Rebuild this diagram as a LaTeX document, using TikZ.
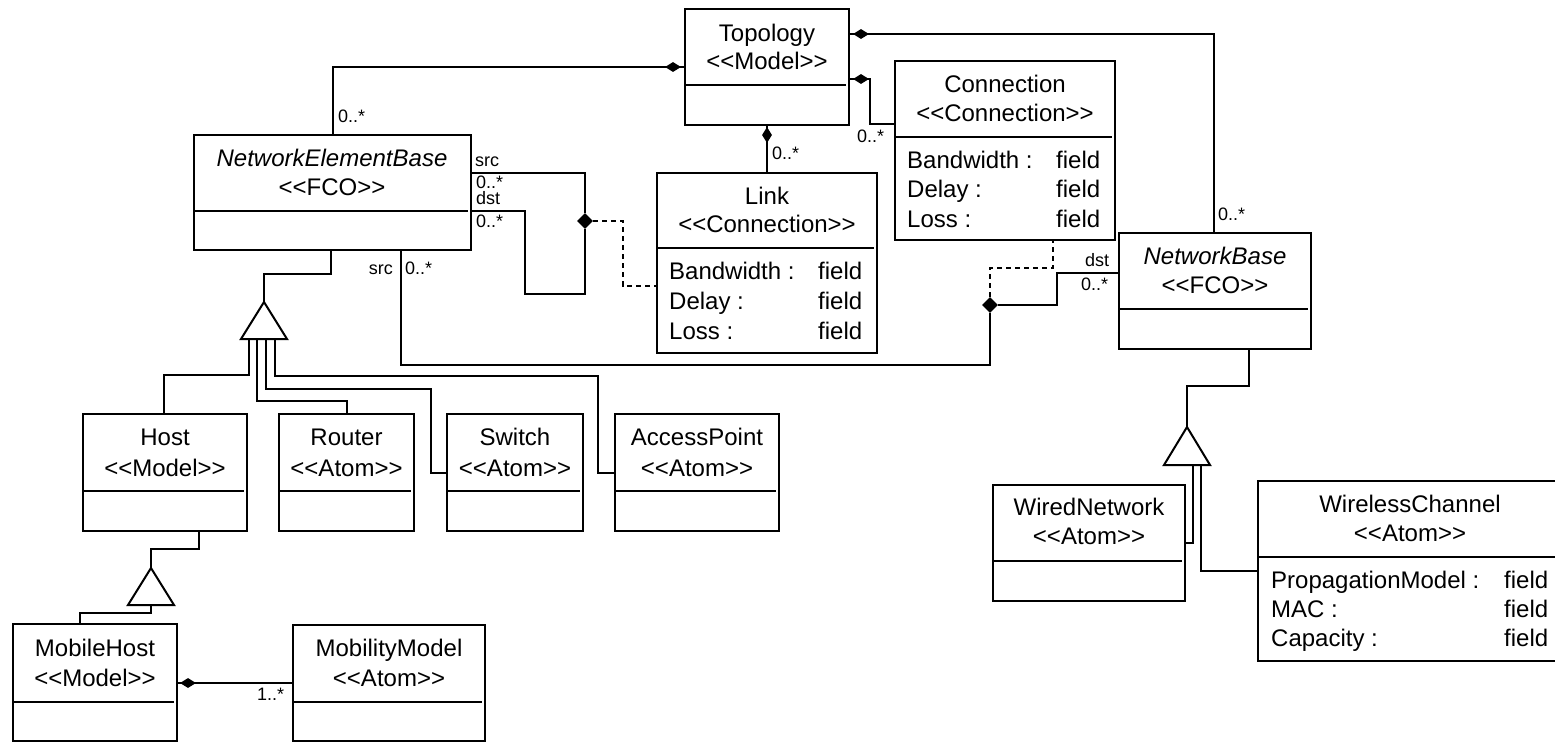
\documentclass[tikz,border=0pt]{standalone}
\usepackage{fontspec}
\setmainfont{Liberation Sans}
\usetikzlibrary{fit,shapes.geometric}
% stereotype text such as <<Model>>, kept apart from the << >> guillemet mapping
\newcommand\stereo[1]{<\kern0pt<#1>\kern0pt>}
% a class box: name, corners, and the y of its compartment line
\newcommand\umlclass[6]{%
  \node[box, fit={(#2,#3) (#4,#5)}] (#1) {};
  \draw[conn] (#2,#6) -- ({#4-3},#6);}
\begin{document}
\begin{tikzpicture}[x=1pt,y=-1pt,
  conn/.style={line width=2pt, line join=miter},
  box/.style={draw, line width=2pt, inner sep=0pt},
  ttl/.style={anchor=base, inner sep=0pt, font=\fontsize{24}{28}\selectfont},
  ttli/.style={ttl, font=\fontsize{24}{28}\selectfont\itshape},
  fld/.style={anchor=base west, inner sep=0pt, font=\fontsize{24}{28}\selectfont},
  lbl/.style={anchor=base west, inner sep=0pt, font=\fontsize{18}{20}\selectfont},
  lblr/.style={lbl, anchor=base east},
  comp/.style={diamond, fill=black, draw=none, inner sep=0pt, minimum width=16pt, minimum height=10pt},
  compv/.style={comp, minimum width=10pt, minimum height=16pt},
  junc/.style={comp, minimum width=16pt, minimum height=16pt},
  dashconn/.style={conn, dash pattern=on 5pt off 4pt},
  gen/.style={conn, fill=white},
]
\fill[white] (0,0) rectangle (1555,742);
\useasboundingbox (0,0) rectangle (1555,742);

% ---------- classes ----------
\umlclass{topo}{685}{9}{849}{125}{85}
\node[ttl] (topo-n) at (767,41) {Topology};
\node[ttl] (topo-s) at (767,69) {\stereo{Model}};

\umlclass{conc}{895}{61}{1115}{240}{137}
\node[ttl] (conc-n) at (1005,92) {Connection};
\node[ttl] (conc-s) at (1005,121) {\stereo{Connection}};
\node[fld] (conc-a1) at (907,168) {Bandwidth :};
\node[fld] (conc-v1) at (1056,168) {field};
\node[fld] (conc-a2) at (907,197) {Delay :};
\node[fld] (conc-v2) at (1056,197) {field};
\node[fld] (conc-a3) at (907,227) {Loss :};
\node[fld] (conc-v3) at (1056,227) {field};

\umlclass{link}{657}{173}{877}{353}{248}
\node[ttl] (link-n) at (767,204) {Link};
\node[ttl] (link-s) at (767,232) {\stereo{Connection}};
\node[fld] (link-a1) at (669,279) {Bandwidth :};
\node[fld] (link-v1) at (818,279) {field};
\node[fld] (link-a2) at (669,309) {Delay :};
\node[fld] (link-v2) at (818,309) {field};
\node[fld] (link-a3) at (669,339) {Loss :};
\node[fld] (link-v3) at (818,339) {field};

\umlclass{neb}{194}{135}{471}{250}{211}
\node[ttli] (neb-n) at (332,166) {NetworkElementBase};
\node[ttl] (neb-s) at (332,195) {\stereo{FCO}};

\umlclass{nb}{1119}{233}{1311}{349}{309}
\node[ttli] (nb-n) at (1215,264) {NetworkBase};
\node[ttl] (nb-s) at (1215,293) {\stereo{FCO}};

\umlclass{host}{83}{414}{247}{531}{491}
\node[ttl] (host-n) at (165,445) {Host};
\node[ttl] (host-s) at (165,476) {\stereo{Model}};

\umlclass{router}{279}{414}{414}{531}{491}
\node[ttl] (router-n) at (346.5,445) {Router};
\node[ttl] (router-s) at (346.5,476) {\stereo{Atom}};

\umlclass{switch}{447}{414}{583}{531}{491}
\node[ttl] (switch-n) at (515,445) {Switch};
\node[ttl] (switch-s) at (515,476) {\stereo{Atom}};

\umlclass{ap}{615}{414}{779}{531}{491}
\node[ttl] (ap-n) at (697,445) {AccessPoint};
\node[ttl] (ap-s) at (697,476) {\stereo{Atom}};

\umlclass{mh}{13}{624}{177}{741}{702}
\node[ttl] (mh-n) at (95,656) {MobileHost};
\node[ttl] (mh-s) at (95,686) {\stereo{Model}};

\umlclass{mm}{293}{625}{485}{741}{702}
\node[ttl] (mm-n) at (389,656) {MobilityModel};
\node[ttl] (mm-s) at (389,686) {\stereo{Atom}};

\umlclass{wired}{993}{485}{1185}{601}{561}
\node[ttl] (wired-n) at (1089,515) {WiredNetwork};
\node[ttl] (wired-s) at (1089,544) {\stereo{Atom}};

\umlclass{wless}{1258}{481}{1562}{661}{557}
\node[ttl] (wless-n) at (1410,512) {WirelessChannel};
\node[ttl] (wless-s) at (1410,541) {\stereo{Atom}};
\node[fld] (wless-a1) at (1271,588) {PropagationModel :};
\node[fld] (wless-v1) at (1504,588) {field};
\node[fld] (wless-a2) at (1271,617) {MAC :};
\node[fld] (wless-v2) at (1504,617) {field};
\node[fld] (wless-a3) at (1271,646) {Capacity :};
\node[fld] (wless-v3) at (1504,646) {field};

% ---------- compositions into Topology ----------
\draw[conn] (neb.north -| 333,0) |- (topo.west |- 0,67);
\node[comp] (dm1) at (673,67) {};
\node[lbl] (m1) at (338,122) {0..*};

\draw[conn] (topo.east |- 0,34) -| (nb.north -| 1214,0);
\node[comp] (dm2) at (861,34) {};
\node[lbl] (m2) at (1218,220) {0..*};

\draw[conn] (topo.east |- 0,79) -| (870,124) -- (conc.west |- 0,124);
\node[comp] (dm3) at (861,79) {};
\node[lbl] (m3) at (857,142) {0..*};

\draw[conn] (link.north -| 767,0) -- (topo.south -| 767,0);
\node[compv] (dm4) at (767,135) {};
\node[lbl] (m4) at (772,159) {0..*};

% ---------- Link: NetworkElementBase to itself ----------
\node[junc] (jd1) at (585,221) {};
\draw[conn] (neb.east |- 0,173) -| (jd1.north);
\draw[conn] (jd1.south) |- (525,294) |- (neb.east |- 0,211);
\draw[dashconn] (jd1.east) -| (623,286) -- (link.west |- 0,286);
\node[lbl] (l1) at (475,166) {src};
\node[lbl] (l2) at (476,188) {0..*};
\node[lbl] (l3) at (476,204) {dst};
\node[lbl] (l4) at (476,227) {0..*};

% ---------- Connection: NetworkElementBase to NetworkBase ----------
\node[junc] (jd2) at (990,305) {};
\draw[conn] (neb.south -| 401,0) |- (990,365) -- (jd2.south);
\draw[conn] (jd2.east) -| (1057,273) -- (nb.west |- 0,273);
\draw[dashconn] (jd2.north) |- (1053,268) -- (conc.south -| 1053,0);
\node[lblr] (l5) at (393,274) {src};
\node[lbl] (l6) at (405,274) {0..*};
\node[lbl] (l7) at (1085,266) {dst};
\node[lbl] (l8) at (1081,290) {0..*};

% ---------- inheritance from NetworkElementBase ----------
\draw[gen] (264,302) coordinate (g1) -- (287,339) -- (241,339) -- cycle;
\coordinate (g1b) at (264,339);
\draw[conn] (neb.south -| 331,0) |- (264,274) -- (g1);
\draw[conn] (g1b -| 249,0) |- (164,375) -- (host.north -| 164,0);
\draw[conn] (g1b -| 257,0) |- (347,401) -- (router.north -| 347,0);
\draw[conn] (g1b -| 266,0) |- (431,389) |- (switch.west |- 0,473);
\draw[conn] (g1b -| 275,0) |- (598,376) |- (ap.west |- 0,473);

% ---------- inheritance from Host ----------
\draw[gen] (151,568) coordinate (g2) -- (174,605) -- (128,605) -- cycle;
\coordinate (g2b) at (151,605);
\draw[conn] (host.south -| 199,0) |- (151,549) -- (g2);
\draw[conn] (g2b) |- (80,613) -- (mh.north -| 80,0);

% ---------- inheritance from NetworkBase ----------
\draw[gen] (1187,427) coordinate (g3) -- (1210,465) -- (1164,465) -- cycle;
\coordinate (g3b) at (1187,465);
\draw[conn] (nb.south -| 1249,0) |- (1187,386) -- (g3);
\draw[conn] (g3b -| 1193,0) |- (wired.east |- 0,543);
\draw[conn] (g3b -| 1201,0) |- (wless.west |- 0,571);

% ---------- MobileHost owns MobilityModel ----------
\draw[conn] (mh.east |- 0,683) -- (mm.west |- 0,683);
\node[comp] (dm5) at (188,683) {};
\node[lbl] (m5) at (257,700) {1..*};
\end{tikzpicture}
\end{document}
